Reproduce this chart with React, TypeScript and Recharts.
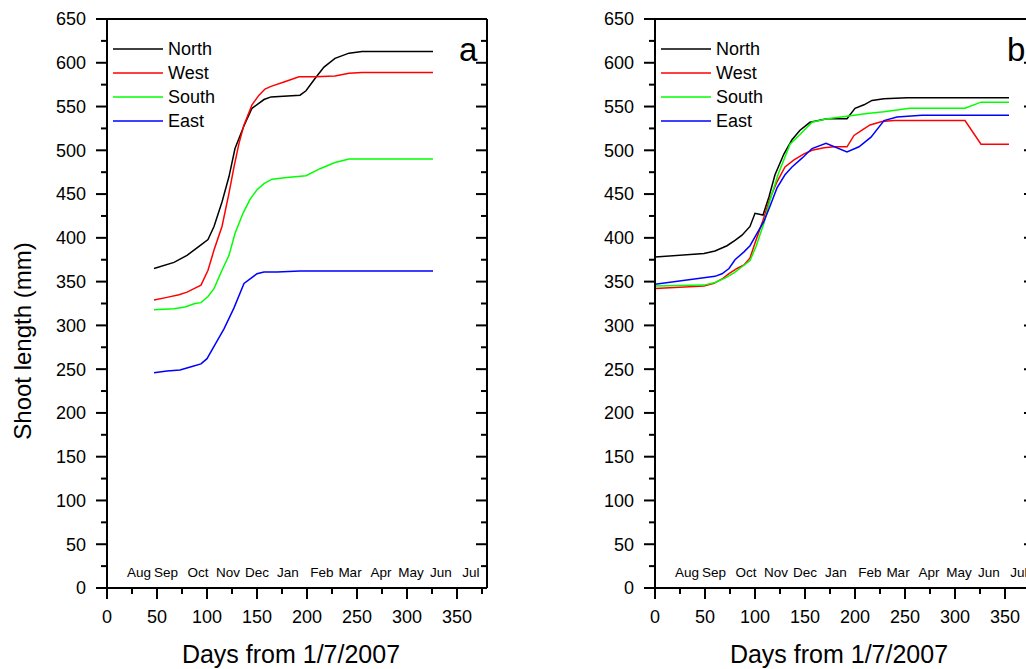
import { Line, LineChart, ReferenceLine, XAxis, YAxis } from 'recharts'

type Pt = { d: number; v: number }

const xTicks = [0, 25, 50, 75, 100, 125, 150, 175, 200, 225, 250, 275, 300, 325, 350, 375]
const yTicks = [0, 25, 50, 75, 100, 125, 150, 175, 200, 225, 250, 275, 300, 325, 350, 375, 400, 425, 450, 475, 500, 525, 550, 575, 600, 625, 650]

const monthNames = ['Aug', 'Sep', 'Oct', 'Nov', 'Dec', 'Jan', 'Feb', 'Mar', 'Apr', 'May', 'Jun', 'Jul']
const monthDays = [32, 59, 91, 121, 150, 181, 215, 243, 274, 304, 334, 364]

const seriesNames = ['North', 'West', 'South', 'East']
const seriesColors = ['#000000', '#ff0000', '#00ff00', '#0000ff']

// panel a
const northA: Pt[] = [
  { d: 47, v: 365 }, { d: 67, v: 372 }, { d: 80, v: 380 }, { d: 93, v: 391 }, { d: 101, v: 398 },
  { d: 107, v: 413 }, { d: 115, v: 441 }, { d: 122, v: 470 }, { d: 128, v: 502 }, { d: 137, v: 528 },
  { d: 145, v: 548 }, { d: 157, v: 558 }, { d: 164, v: 561 }, { d: 193, v: 563 }, { d: 199, v: 568 },
  { d: 208, v: 582 }, { d: 217, v: 595 }, { d: 228, v: 605 }, { d: 242, v: 611 }, { d: 255, v: 613 },
  { d: 326, v: 613 },
]
const westA: Pt[] = [
  { d: 47, v: 329 }, { d: 60, v: 332 }, { d: 72, v: 335 }, { d: 80, v: 338 }, { d: 87, v: 342 },
  { d: 94, v: 346 }, { d: 101, v: 363 }, { d: 107, v: 386 }, { d: 115, v: 413 }, { d: 122, v: 451 },
  { d: 127, v: 481 }, { d: 132, v: 508 }, { d: 137, v: 529 }, { d: 145, v: 552 }, { d: 152, v: 563 },
  { d: 158, v: 570 }, { d: 164, v: 573 }, { d: 177, v: 578 }, { d: 192, v: 584 }, { d: 208, v: 584 },
  { d: 228, v: 585 }, { d: 242, v: 588 }, { d: 255, v: 589 }, { d: 326, v: 589 },
]
const southA: Pt[] = [
  { d: 47, v: 318 }, { d: 67, v: 319 }, { d: 78, v: 321 }, { d: 88, v: 325 }, { d: 94, v: 326 },
  { d: 101, v: 333 }, { d: 107, v: 342 }, { d: 115, v: 363 }, { d: 122, v: 380 }, { d: 128, v: 405 },
  { d: 136, v: 428 }, { d: 143, v: 444 }, { d: 150, v: 455 }, { d: 157, v: 462 }, { d: 165, v: 467 },
  { d: 180, v: 469 }, { d: 199, v: 471 }, { d: 213, v: 479 }, { d: 228, v: 486 }, { d: 242, v: 490 },
  { d: 255, v: 490 }, { d: 326, v: 490 },
]
const eastA: Pt[] = [
  { d: 47, v: 246 }, { d: 60, v: 248 }, { d: 73, v: 249 }, { d: 85, v: 253 }, { d: 94, v: 256 },
  { d: 100, v: 262 }, { d: 108, v: 278 }, { d: 117, v: 296 }, { d: 127, v: 320 }, { d: 137, v: 348 },
  { d: 150, v: 359 }, { d: 157, v: 361 }, { d: 170, v: 361 }, { d: 193, v: 362 }, { d: 326, v: 362 },
]

// panel b
const northB: Pt[] = [
  { d: 0, v: 378 }, { d: 49, v: 382 }, { d: 60, v: 385 }, { d: 72, v: 391 }, { d: 80, v: 397 },
  { d: 87, v: 403 }, { d: 95, v: 413 }, { d: 100, v: 428 }, { d: 108, v: 426 }, { d: 114, v: 447 },
  { d: 120, v: 472 }, { d: 129, v: 496 }, { d: 137, v: 512 }, { d: 145, v: 523 }, { d: 155, v: 532 },
  { d: 172, v: 536 }, { d: 192, v: 536 }, { d: 200, v: 548 }, { d: 209, v: 552 }, { d: 217, v: 557 },
  { d: 229, v: 559 }, { d: 252, v: 560 }, { d: 354, v: 560 },
]
const westB: Pt[] = [
  { d: 0, v: 342 }, { d: 49, v: 345 }, { d: 59, v: 348 }, { d: 67, v: 353 }, { d: 74, v: 359 },
  { d: 82, v: 365 }, { d: 89, v: 369 }, { d: 95, v: 377 }, { d: 100, v: 394 }, { d: 108, v: 420 },
  { d: 115, v: 445 }, { d: 122, v: 464 }, { d: 130, v: 481 }, { d: 139, v: 489 }, { d: 149, v: 496 },
  { d: 157, v: 500 }, { d: 169, v: 503 }, { d: 179, v: 504 }, { d: 192, v: 504 }, { d: 199, v: 517 },
  { d: 207, v: 523 }, { d: 215, v: 529 }, { d: 227, v: 533 }, { d: 239, v: 534 }, { d: 310, v: 534 },
  { d: 326, v: 507 }, { d: 354, v: 507 },
]
const southB: Pt[] = [
  { d: 0, v: 345 }, { d: 49, v: 346 }, { d: 60, v: 349 }, { d: 70, v: 354 }, { d: 79, v: 360 },
  { d: 87, v: 367 }, { d: 95, v: 374 }, { d: 101, v: 390 }, { d: 109, v: 417 }, { d: 115, v: 443 },
  { d: 123, v: 472 }, { d: 135, v: 507 }, { d: 145, v: 518 }, { d: 157, v: 532 }, { d: 172, v: 536 },
  { d: 192, v: 539 }, { d: 212, v: 542 }, { d: 229, v: 544 }, { d: 242, v: 546 }, { d: 255, v: 548 },
  { d: 310, v: 548 }, { d: 326, v: 555 }, { d: 354, v: 555 },
]
const eastB: Pt[] = [
  { d: 0, v: 347 }, { d: 60, v: 356 }, { d: 67, v: 359 }, { d: 74, v: 365 }, { d: 80, v: 375 },
  { d: 89, v: 384 }, { d: 95, v: 391 }, { d: 102, v: 405 }, { d: 109, v: 419 }, { d: 115, v: 436 },
  { d: 122, v: 457 }, { d: 130, v: 472 }, { d: 137, v: 481 }, { d: 147, v: 491 }, { d: 157, v: 502 },
  { d: 171, v: 508 }, { d: 192, v: 498 }, { d: 204, v: 504 }, { d: 216, v: 515 }, { d: 229, v: 534 },
  { d: 242, v: 538 }, { d: 267, v: 540 }, { d: 354, v: 540 },
]

const FONT = '"Liberation Sans", Arial, Helvetica, sans-serif'
const axisLine = { stroke: '#000', strokeWidth: 2 }

const isMajor = (v: number) => v % 50 === 0
const tickLen = (v: number) => (isMajor(v) ? 11 : 6)

// bottom: outward ticks + numbers
const BottomTick = ({ x, y, payload }: any) => (
  <g>
    <line x1={x} x2={x} y1={y} y2={y + tickLen(payload.value)} stroke="#000" strokeWidth={2} />
    {isMajor(payload.value) && (
      <text x={x} y={623} textAnchor="middle" fontSize={18} fill="#000">
        {payload.value}
      </text>
    )}
  </g>
)

// left: outward ticks + numbers
const LeftTick = ({ x, y, payload }: any) => (
  <g>
    <line x1={x - tickLen(payload.value)} x2={x} y1={y} y2={y} stroke="#000" strokeWidth={2} />
    {isMajor(payload.value) && (
      <text x={x - 21} y={y} dy="0.355em" textAnchor="end" fontSize={18} fill="#000">
        {payload.value}
      </text>
    )}
  </g>
)

// top: inward ticks
const TopTick = ({ x, y, payload }: any) => (
  <line x1={x} x2={x} y1={y} y2={y + tickLen(payload.value)} stroke="#000" strokeWidth={2} />
)

// right: inward ticks
const RightTick = ({ x, y, payload }: any) => (
  <line x1={x - tickLen(payload.value)} x2={x} y1={y} y2={y} stroke="#000" strokeWidth={2} />
)

interface PanelProps {
  letter: string
  north: Pt[]
  west: Pt[]
  south: Pt[]
  east: Pt[]
  yTitle: boolean
}

function Panel({ letter, north, west, south, east, yTitle }: PanelProps) {
  const series = [north, west, south, east]
  return (
    <div style={{ position: 'relative', width: 540, height: 669 }}>
      <LineChart width={540} height={669} margin={{ top: 19, right: 53, bottom: 0, left: 0 }} style={{ fontFamily: FONT }}>
        <XAxis
          xAxisId="x"
          type="number"
          dataKey="d"
          domain={[0, 380]}
          allowDataOverflow
          ticks={xTicks}
          interval={0}
          height={81}
          tickSize={0}
          tickMargin={0}
          axisLine={axisLine}
          tickLine={false}
          tick={BottomTick}
          label={{
            content: ({ viewBox }: any) => (
              <text x={viewBox.x + viewBox.width / 2 - 6} y={663} textAnchor="middle" fontSize={25} fill="#000">
                Days from 1/7/2007
              </text>
            ),
          }}
        />
        <XAxis
          xAxisId="top"
          orientation="top"
          type="number"
          domain={[0, 380]}
          allowDataOverflow
          ticks={xTicks}
          interval={0}
          mirror
          height={30}
          tickSize={0}
          tickMargin={0}
          axisLine={axisLine}
          tickLine={false}
          tick={TopTick}
          label={{
            content: ({ viewBox }: any) => (
              <text x={viewBox.x + 352} y={61} fontSize={33} fill="#000">
                {letter}
              </text>
            ),
          }}
        />
        <YAxis
          yAxisId="y"
          type="number"
          domain={[0, 650]}
          allowDataOverflow
          ticks={yTicks}
          interval={0}
          width={107}
          tickSize={0}
          tickMargin={0}
          axisLine={axisLine}
          tickLine={false}
          tick={LeftTick}
          label={
            yTitle
              ? {
                  content: () => (
                    <text x={22} y={341} transform="rotate(-90 22 341)" textAnchor="middle" dominantBaseline="central" fontSize={24} fill="#000">
                      Shoot length (mm)
                    </text>
                  ),
                }
              : undefined
          }
        />
        <YAxis
          yAxisId="right"
          orientation="right"
          type="number"
          domain={[0, 650]}
          allowDataOverflow
          ticks={yTicks}
          interval={0}
          mirror
          width={30}
          tickSize={0}
          tickMargin={0}
          axisLine={axisLine}
          tickLine={false}
          tick={RightTick}
        />
        {monthDays.map((d, i) => (
          <ReferenceLine
            key={monthNames[i]}
            xAxisId="x"
            yAxisId="y"
            x={d}
            stroke="none"
            label={{ value: monthNames[i], position: 'insideBottom', offset: 11, fontSize: 13.5, fill: '#000' }}
          />
        ))}
        {series.map((data, i) => (
          <Line
            key={seriesNames[i]}
            xAxisId="x"
            yAxisId="y"
            data={data}
            dataKey="v"
            name={seriesNames[i]}
            stroke={seriesColors[i]}
            strokeWidth={1.5}
            dot={false}
            isAnimationActive={false}
          />
        ))}
      </LineChart>
      <div style={{ position: 'absolute', left: 113, top: 37, fontFamily: FONT, fontSize: 18, color: '#000' }}>
        {seriesNames.map((name, i) => (
          <div key={name} style={{ display: 'flex', alignItems: 'center', height: 24 }}>
            <svg width={55} height={24}>
              <line x1={0} x2={50} y1={12} y2={12} stroke={seriesColors[i]} strokeWidth={1.5} />
            </svg>
            <span>{name}</span>
          </div>
        ))}
      </div>
    </div>
  )
}

export default function App() {
  return (
    <div style={{ position: 'fixed', left: 0, top: 0, width: 1026, height: 669, overflow: 'hidden', background: '#fff' }}>
      <div style={{ position: 'absolute', left: 0, top: 0 }}>
        <Panel letter="a" north={northA} west={westA} south={southA} east={eastA} yTitle />
      </div>
      <div style={{ position: 'absolute', left: 548, top: 0 }}>
        <Panel letter="b" north={northB} west={westB} south={southB} east={eastB} yTitle={false} />
      </div>
    </div>
  )
}
